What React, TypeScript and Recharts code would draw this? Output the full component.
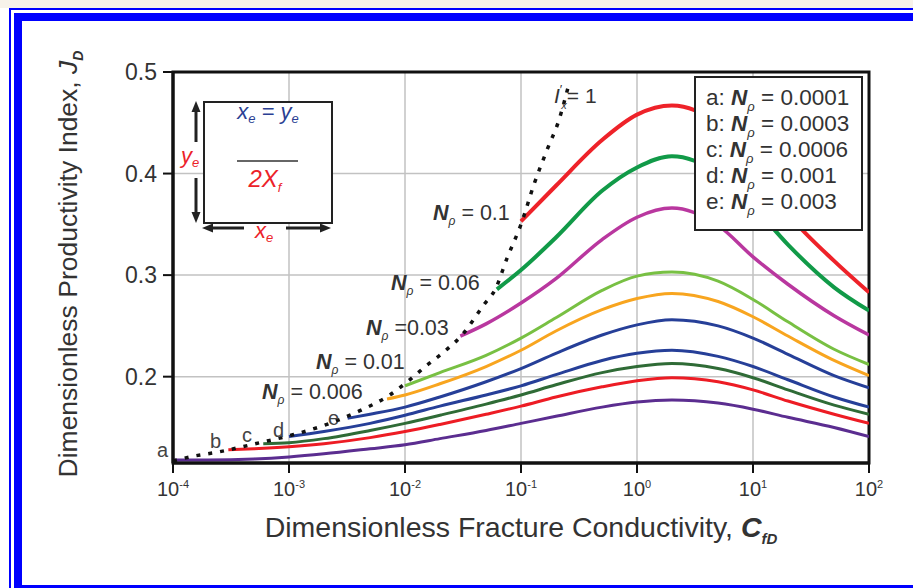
import React from "react";
import {
  LineChart,
  Line,
  XAxis,
  YAxis,
  CartesianGrid,
  ReferenceArea,
} from "recharts";

const FONT = "'Liberation Sans', Arial, Helvetica, sans-serif";

// axis ticks
const X_TICKS = [1e-4, 1e-3, 1e-2, 1e-1, 1, 10, 100];
const X_EXP = ["-4", "-3", "-2", "-1", "0", "1", "2"];
const Y_TICKS = [0.2, 0.3, 0.4, 0.5];

// a: Np = 0.0001
const C_A = [1e-4, 2e-4, 5e-4, 1e-3, 2e-3, 5e-3, 1e-2, 2e-2, 5e-2, 0.1, 0.2, 0.5, 1, 2, 5, 10, 20, 50, 100];
const J_A = [0.118, 0.118, 0.119, 0.121, 0.124, 0.129, 0.133, 0.139, 0.147, 0.154, 0.161, 0.17, 0.175, 0.177, 0.174, 0.168, 0.16, 0.15, 0.141];
// b: Np = 0.0003
const C_B = [3e-4, 5e-4, 1e-3, 2e-3, 5e-3, 1e-2, 2e-2, 5e-2, 0.1, 0.2, 0.5, 1, 2, 5, 10, 20, 50, 100];
const J_B = [0.128, 0.129, 0.131, 0.134, 0.14, 0.146, 0.153, 0.163, 0.171, 0.18, 0.19, 0.196, 0.199, 0.195, 0.187, 0.176, 0.163, 0.154];
// c: Np = 0.0006
const C_C = [6e-4, 1e-3, 2e-3, 5e-3, 1e-2, 2e-2, 5e-2, 0.1, 0.2, 0.5, 1, 2, 5, 10, 20, 50, 100];
const J_C = [0.134, 0.135, 0.139, 0.147, 0.154, 0.162, 0.173, 0.182, 0.192, 0.204, 0.21, 0.213, 0.208, 0.199, 0.187, 0.172, 0.163];
// d: Np = 0.001
const C_D = [1e-3, 2e-3, 5e-3, 1e-2, 2e-2, 5e-2, 0.1, 0.2, 0.5, 1, 2, 5, 10, 20, 50, 100];
const J_D = [0.141, 0.146, 0.154, 0.162, 0.171, 0.182, 0.191, 0.202, 0.216, 0.223, 0.226, 0.22, 0.21, 0.197, 0.18, 0.17];
// e: Np = 0.003
const C_E = [3.2e-3, 5e-3, 1e-2, 2e-2, 5e-2, 0.1, 0.2, 0.5, 1, 2, 5, 10, 20, 50, 100];
const J_E = [0.159, 0.163, 0.17, 0.18, 0.195, 0.208, 0.223, 0.241, 0.251, 0.256, 0.25, 0.238, 0.222, 0.201, 0.189];
// Np = 0.006
const C_F = [7e-3, 1e-2, 2e-2, 5e-2, 0.1, 0.2, 0.5, 1, 2, 5, 10, 20, 50, 100];
const J_F = [0.178, 0.182, 0.193, 0.21, 0.226, 0.245, 0.266, 0.277, 0.282, 0.274, 0.259, 0.24, 0.216, 0.201];
// Np = 0.01
const C_G = [1e-2, 2e-2, 5e-2, 0.1, 0.2, 0.5, 1, 2, 5, 10, 20, 50, 100];
const J_G = [0.191, 0.204, 0.221, 0.238, 0.258, 0.285, 0.299, 0.303, 0.294, 0.276, 0.254, 0.227, 0.212];
// Np = 0.03
const C_H = [0.03, 0.05, 0.1, 0.2, 0.5, 1, 2, 5, 10, 20, 50, 100];
const J_H = [0.24, 0.252, 0.2725, 0.2965, 0.335, 0.357, 0.366, 0.349, 0.318, 0.291, 0.26, 0.241];
// Np = 0.06
const C_I = [0.062, 0.1, 0.2, 0.5, 1, 2, 5, 10, 20, 50, 100];
const J_I = [0.286, 0.305, 0.337, 0.383, 0.406, 0.417, 0.4, 0.368, 0.33, 0.288, 0.265];
// Np = 0.1
const C_K = [0.1, 0.2, 0.5, 1, 2, 5, 10, 20, 50, 100];
const J_K = [0.353, 0.388, 0.433, 0.458, 0.467, 0.448, 0.405, 0.36, 0.314, 0.283];
// I'x = 1 boundary
const C_IX = [1e-4, 1.4e-4, 2.5e-4, 5.6e-4, 1.1e-3, 2e-3, 4e-3, 7.4e-3, 1.05e-2, 1.5e-2, 2.2e-2, 3.1e-2, 4.8e-2, 6e-2, 7.6e-2, 0.1, 0.13, 0.17, 0.21, 0.26];
const J_IX = [0.117, 0.121, 0.126, 0.135, 0.143, 0.152, 0.166, 0.182, 0.195, 0.21, 0.225, 0.241, 0.271, 0.286, 0.317, 0.35, 0.39, 0.425, 0.451, 0.489];

const rows = (c: number[], j: number[]) => c.map((v, i) => ({ c: v, j: j[i] }));

const curves = [
  { key: "a", c: C_A, j: J_A, color: "#5b2d90", w: 3 },
  { key: "b", c: C_B, j: J_B, color: "#ed1c24", w: 3 },
  { key: "c", c: C_C, j: J_C, color: "#2f6b36", w: 3 },
  { key: "d", c: C_D, j: J_D, color: "#263f98", w: 3 },
  { key: "e", c: C_E, j: J_E, color: "#263f98", w: 3 },
  { key: "f", c: C_F, j: J_F, color: "#f8a51f", w: 3 },
  { key: "g", c: C_G, j: J_G, color: "#78c043", w: 3 },
  { key: "h", c: C_H, j: J_H, color: "#b9379f", w: 3.5 },
  { key: "i", c: C_I, j: J_I, color: "#119a48", w: 4 },
  { key: "k", c: C_K, j: J_K, color: "#ee2229", w: 4 },
];

const XTick = (props: any) => {
  const { x, y, payload } = props;
  const i = X_TICKS.indexOf(payload.value);
  return (
    <text x={x} y={y + 21} textAnchor="middle" fontSize={20} fill="#333" fontFamily={FONT}>
      10<tspan fontSize={11} dy={-8}>{X_EXP[i]}</tspan>
    </text>
  );
};

const YTick = (props: any) => {
  const { x, y, payload } = props;
  return (
    <text x={x - 4} y={y + 8} textAnchor="end" fontSize={23} fill="#333" fontFamily={FONT}>
      {payload.value.toFixed(1)}
    </text>
  );
};

const NpLabel = ({ x, y, v }: { x: number; y: number; v: string }) => (
  <text x={x} y={y} fontSize={21.5} fill="#333">
    <tspan fontWeight="bold" fontStyle="italic">N</tspan>
    <tspan fontStyle="italic" fontSize={12} dy={5}>ρ</tspan>
    <tspan dy={-5}>{v}</tspan>
  </text>
);

const LEGEND = ["a: ", "b: ", "c: ", "d: ", "e: "];
const LEGEND_V = [" = 0.0001", " = 0.0003", " = 0.0006", " = 0.001", " = 0.003"];

export default function App() {
  return (
    <div style={{ position: "relative", width: 913, height: 588, overflow: "hidden", background: "#fff", fontFamily: FONT }}>
      <style>{"body{margin:0}"}</style>
      <div style={{ position: "absolute", left: 0, top: 0, width: 913, height: 8, background: "#f7f2ea" }} />
      <div style={{ position: "absolute", left: 9, top: 8, width: 904, height: 2, background: "#0000ff" }} />
      <div style={{ position: "absolute", left: 9, top: 8, width: 2, height: 580, background: "#0000ff" }} />
      <div style={{ position: "absolute", left: 14, top: 13, width: 899, height: 8, background: "#0000ff" }} />
      <div style={{ position: "absolute", left: 14, top: 13, width: 8, height: 575, background: "#0000ff" }} />
      <div style={{ position: "absolute", left: 14, top: 585, width: 899, height: 3, background: "#0000ff" }} />

      <div style={{ position: "absolute", left: 0, top: 0 }}>
        <LineChart width={913} height={588} margin={{ top: 72, right: 44, bottom: 85, left: 113 }}>
          <CartesianGrid stroke="#c2c2c2" strokeWidth={1.5} />
          <XAxis
            dataKey="c"
            type="number"
            scale="log"
            domain={[1e-4, 100]}
            ticks={X_TICKS}
            allowDataOverflow
            height={40}
            tickSize={10}
            tickMargin={2}
            tick={<XTick />}
            axisLine={{ stroke: "#111", strokeWidth: 3 }}
            tickLine={{ stroke: "#111", strokeWidth: 2 }}
          />
          <YAxis
            type="number"
            domain={[0.115, 0.5]}
            ticks={Y_TICKS}
            allowDataOverflow
            width={60}
            tickSize={10}
            tickMargin={2}
            tick={<YTick />}
            axisLine={{ stroke: "#111", strokeWidth: 3 }}
            tickLine={{ stroke: "#111", strokeWidth: 2 }}
          />
          {curves.map((s) => (
            <Line
              key={s.key}
              data={rows(s.c, s.j)}
              dataKey="j"
              type="monotone"
              stroke={s.color}
              strokeWidth={s.w}
              dot={false}
              isAnimationActive={false}
            />
          ))}
          <Line
            data={rows(C_IX, J_IX)}
            dataKey="j"
            type="monotone"
            stroke="#111"
            strokeWidth={3.5}
            strokeDasharray="4 8"
            dot={false}
            isAnimationActive={false}
          />
          <ReferenceArea x1={1e-4} x2={100} y1={0.115} y2={0.5} fill="none" stroke="#111" strokeWidth={3} ifOverflow="visible" />
        </LineChart>
      </div>

      <svg width={913} height={588} style={{ position: "absolute", left: 0, top: 0, pointerEvents: "none" }} fontFamily={FONT}>
        {/* axis titles */}
        <text transform="translate(77,264) rotate(-90)" textAnchor="middle" fontSize={26.5} fill="#333">
          Dimensionless Productivity Index, <tspan fontStyle="italic">J</tspan>
          <tspan fontStyle="italic" fontWeight="bold" fontSize={14} dy={6}>D</tspan>
        </text>
        <text x={521} y={537} textAnchor="middle" fontSize={28.5} fill="#333">
          Dimensionless Fracture Conductivity, <tspan fontStyle="italic" fontWeight="bold">C</tspan>
          <tspan fontStyle="italic" fontWeight="bold" fontSize={15} dy={7}>fD</tspan>
        </text>

        {/* legend */}
        <rect x={695} y={77} width={167} height={153} fill="#fff" stroke="#222" strokeWidth={2} />
        {LEGEND.map((p, i) => (
          <text key={p} x={706} y={105 + i * 26} fontSize={22.5} fill="#333">
            {p}
            <tspan fontWeight="bold" fontStyle="italic">N</tspan>
            <tspan fontStyle="italic" fontSize={13} dy={6}>ρ</tspan>
            <tspan dy={-6}>{LEGEND_V[i]}</tspan>
          </text>
        ))}

        {/* inset sketch */}
        <rect x={204} y={102} width={128} height={121} fill="#fff" stroke="#222" strokeWidth={2} />
        <line x1={196} y1={110} x2={196} y2={142} stroke="#222" strokeWidth={3} />
        <polygon points="196,101 191.5,112 200.5,112" fill="#222" />
        <line x1={196} y1={178} x2={196} y2={213} stroke="#222" strokeWidth={3} />
        <polygon points="196,223 191.5,212 200.5,212" fill="#222" />
        <line x1={212} y1={228} x2={244} y2={228} stroke="#222" strokeWidth={3} />
        <polygon points="202,228 213,223.5 213,232.5" fill="#222" />
        <line x1={286} y1={228} x2={321} y2={228} stroke="#222" strokeWidth={3} />
        <polygon points="331,228 320,223.5 320,232.5" fill="#222" />
        <line x1={237} y1={161} x2={298} y2={161} stroke="#333" strokeWidth={1.5} />
        <text x={268} y={119} textAnchor="middle" fontSize={22} fill="#2b3f93" fontStyle="italic">
          x<tspan fontSize={13} dy={4}>e</tspan>
          <tspan dy={-4}> = y</tspan>
          <tspan fontSize={13} dy={4}>e</tspan>
        </text>
        <text x={265} y={187} textAnchor="middle" fontSize={24} fill="#ec2229" fontStyle="italic">
          2X<tspan fontSize={13} dy={5}>f</tspan>
        </text>
        <text x={181} y={163} fontSize={22} fill="#ec2229" fontStyle="italic">
          y<tspan fontSize={13} dy={4}>e</tspan>
        </text>
        <text x={255} y={238} fontSize={22} fill="#ec2229" fontStyle="italic">
          x<tspan fontSize={13} dy={4}>e</tspan>
        </text>

        {/* curve annotations */}
        <NpLabel x={433} y={220} v=" = 0.1" />
        <NpLabel x={391} y={290} v=" = 0.06" />
        <NpLabel x={366} y={335} v=" =0.03" />
        <NpLabel x={316} y={369} v=" = 0.01" />
        <NpLabel x={262} y={399} v=" = 0.006" />
        <text x={554} y={103} fontSize={21} fill="#333">
          <tspan fontStyle="italic">I</tspan>
          <tspan fontSize={13} dy={-9}>′</tspan>
          <tspan fontSize={11} fontStyle="italic" dx={-1} dy={15}>x</tspan>
          <tspan dy={-6}>= 1</tspan>
        </text>
        {[
          ["a", 157, 457],
          ["b", 210, 448],
          ["c", 242, 442],
          ["d", 273, 437],
          ["e", 328, 425],
        ].map(([t, x, y]) => (
          <text key={t as string} x={x as number} y={y as number} fontSize={20} fill="#444">
            {t}
          </text>
        ))}
      </svg>
    </div>
  );
}
